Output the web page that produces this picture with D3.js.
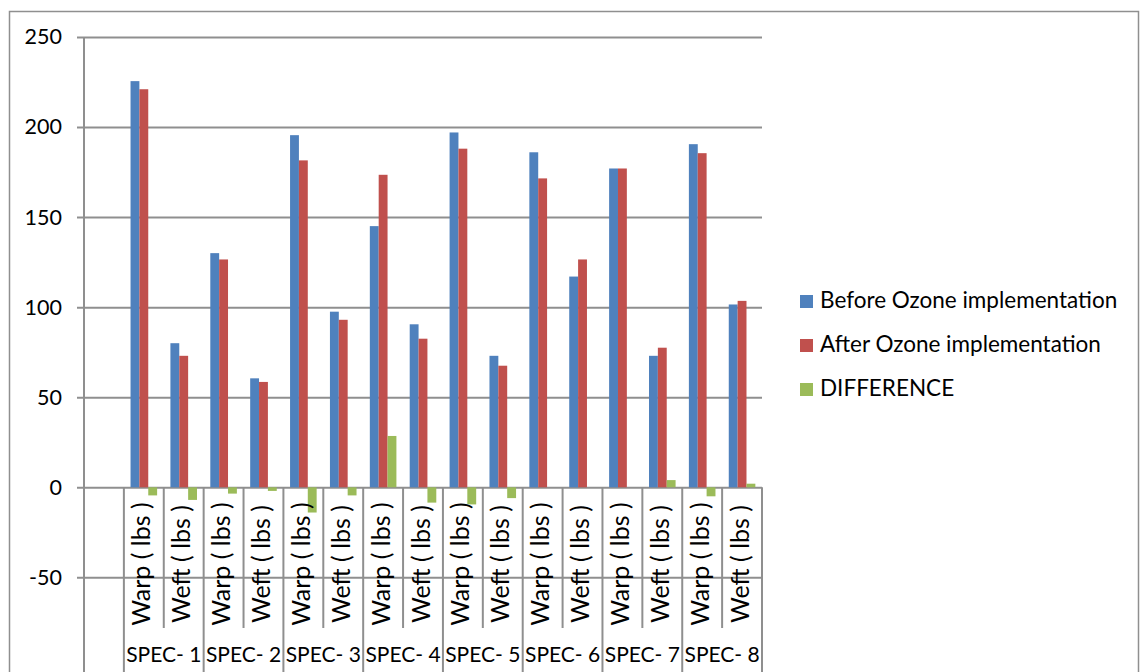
<!DOCTYPE html>
<html>
<head>
<meta charset="utf-8">
<script src="https://cdn.jsdelivr.net/npm/d3@7"></script>
<style>
  html, body { margin: 0; padding: 0; background: #fff; }
  svg { display: block; }
  text { font-family: Lato, "Open Sans", sans-serif; fill: #000; }
</style>
</head>
<body>
<script>
// Tensile strength per fabric spec, before and after ozone treatment
const groups = ["SPEC- 1", "SPEC- 2", "SPEC- 3", "SPEC- 4", "SPEC- 5", "SPEC- 6", "SPEC- 7", "SPEC- 8"];
const subLabels = ["Warp ( lbs )", "Weft ( lbs )"];
const seriesNames = ["Before Ozone implementation", "After Ozone implementation", "DIFFERENCE"];
const seriesColors = ["#4F81BD", "#C0504D", "#9BBB59"];

// one value per Warp/Weft column, SPEC-1 .. SPEC-8
const before     = [225.5, 80, 130, 60.5, 195.5, 97.5, 145, 90.5, 197, 73, 186, 117, 177, 73, 190.5, 101.5];
const after      = [221, 73, 126.5, 58.5, 181.5, 93, 173.5, 82.5, 188, 67.5, 171.5, 126.5, 177, 77.5, 185.5, 103.5];
const difference = [-4.5, -7, -3.5, -2, -14, -4.5, 28.5, -8.5, -9.5, -6, null, null, null, 4, -5, 2];

const yTicks = [-50, 0, 50, 100, 150, 200, 250];

const W = 1141, H = 672;
const gridColor = "#8f8f8f";

// column keys: one leading blank column, then Warp/Weft per spec
const columns = [{ group: "", sub: "", idx: null }];
groups.forEach((g, gi) => subLabels.forEach((s, si) => {
  columns.push({ group: g, sub: s, idx: gi * subLabels.length + si });
}));

const svg = d3.select("body").append("svg")
  .attr("width", W).attr("height", H);

svg.append("rect").attr("width", W).attr("height", H).attr("fill", "#fff");

// chart frame
svg.append("rect")
  .attr("x", 9.5).attr("y", 11.5)
  .attr("width", 1129).attr("height", H + 20)
  .attr("fill", "none").attr("stroke", gridColor).attr("stroke-width", 1.5);

const plotLeft = 84, plotRight = 762;
const y = d3.scaleLinear().domain([0, 250]).range([487.3, 37]);

const x = d3.scaleBand()
  .domain(d3.range(columns.length))
  .range([plotLeft, plotRight])
  .padding(0);
const bw = x.bandwidth();

const inner = d3.scaleBand()
  .domain(d3.range(seriesNames.length))
  .range([0, bw])
  .paddingInner(0)
  .paddingOuter(0.75);

// value axis with gridlines
const yAxis = d3.axisLeft(y)
  .tickValues(yTicks)
  .tickSizeInner(-(plotRight - plotLeft + 7))
  .tickSizeOuter(0)
  .tickPadding(15)
  .tickFormat(d => String(d));

const yg = svg.append("g")
  .attr("transform", `translate(${plotLeft - 7},0)`)
  .call(yAxis);
yg.select(".domain").remove();
yg.selectAll(".tick line").attr("stroke", gridColor).attr("stroke-width", 2);
yg.selectAll(".tick text")
  .attr("font-size", 21.5)
  .style("font-family", "Lato, 'Open Sans', sans-serif")
  .attr("fill", "#000");

// vertical value axis line
svg.append("line")
  .attr("x1", plotLeft).attr("x2", plotLeft)
  .attr("y1", y(250)).attr("y2", H)
  .attr("stroke", gridColor).attr("stroke-width", 2);

// category separators: short between Warp/Weft, full length between specs
const innerBottom = 628;
d3.range(1, columns.length + 1).forEach(i => {
  const xb = plotLeft + i * bw;
  const groupEdge = (i % 2 === 1);
  svg.append("line")
    .attr("x1", xb).attr("x2", xb)
    .attr("y1", y(0)).attr("y2", groupEdge ? H : innerBottom)
    .attr("stroke", gridColor).attr("stroke-width", 2);
});

// bars
const seriesData = [before, after, difference];
seriesData.forEach((vals, s) => {
  const rows = columns.filter(c => c.idx !== null && vals[c.idx] !== null)
    .map(c => ({ col: columns.indexOf(c), v: vals[c.idx] }));
  svg.append("g").selectAll("rect")
    .data(rows)
    .join("rect")
    .attr("x", d => x(d.col) + inner(s))
    .attr("width", inner.bandwidth())
    .attr("y", d => Math.min(y(d.v), y(0)))
    .attr("height", d => Math.abs(y(d.v) - y(0)))
    .attr("fill", seriesColors[s]);
});

// rotated Warp/Weft labels
svg.append("g").selectAll("text")
  .data(columns.filter(c => c.idx !== null))
  .join("text")
  .attr("transform", d => `translate(${x(columns.indexOf(d)) + bw / 2 + 6.5},564) rotate(-90)`)
  .attr("text-anchor", "middle")
  .attr("font-size", 25)
  .text(d => d.sub);

// spec labels
svg.append("g").selectAll("text")
  .data(groups)
  .join("text")
  .attr("x", (g, gi) => x(1 + gi * 2) + bw)
  .attr("y", 662)
  .attr("text-anchor", "middle")
  .attr("font-size", 21)
  .text(g => g);

// legend
const legend = svg.append("g").attr("transform", "translate(800,295)");
seriesNames.forEach((name, s) => {
  const row = legend.append("g").attr("transform", `translate(0,${s * 44})`);
  row.append("rect")
    .attr("width", 13).attr("height", 13)
    .attr("fill", seriesColors[s]);
  row.append("text")
    .attr("x", 20).attr("y", 13)
    .attr("font-size", 22.5)
    .text(name);
});
</script>
</body>
</html>
